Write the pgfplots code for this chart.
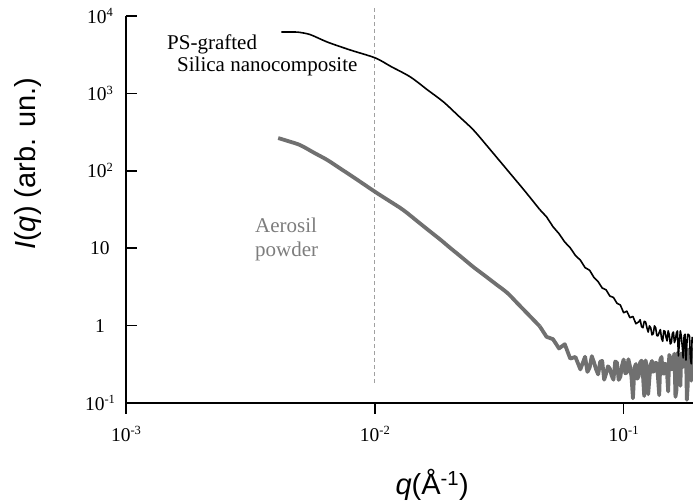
\documentclass[border=0pt]{standalone}
\usepackage{fontspec}
\setmainfont{Liberation Serif}
\newfontfamily\arial{Liberation Sans}
\usepackage{pgfplots}
\pgfplotsset{compat=1.18}
\definecolor{curvegray}{RGB}{112,112,112}
\definecolor{textgray}{RGB}{125,125,125}
\definecolor{dashgray}{RGB}{160,160,160}
\newcommand\ticksize{\fontsize{19.5bp}{21bp}\selectfont}
\newcommand\sups[1]{\raisebox{0.32em}{\fontsize{12.5bp}{13bp}\selectfont #1}}
\begin{document}
\begin{tikzpicture}
\path[use as bounding box] (0,0) rectangle (693bp,504bp);
\begin{axis}[
  at={(126bp,101bp)}, anchor=south west,
  scale only axis, width=567bp, height=387bp,
  xmode=log, ymode=log,
  xmin=0.001, xmax=0.19, ymin=0.1, ymax=10000,
  axis lines=left,
  axis line style={-, line width=1.5bp},
  xtick={0.001,0.01,0.1},
  xticklabels={10\sups{-3},10\sups{-2},10\sups{-1}},
  ytick={0.1,1,10,100,1000,10000},
  yticklabels={10\sups{-1},1,10,10\sups{2},10\sups{3},10\sups{4}},
  xminorticks=false, yminorticks=false,
  xtick align=outside, ytick align=inside,
  major tick length=11bp,
  every tick/.style={black, line width=1.5bp},
  tick label style={font=\ticksize},
  yticklabel style={anchor=center, xshift=-26bp},
  xticklabel style={yshift=-9bp},
  xlabel={\arial\fontsize{29bp}{30bp}\selectfont\textit{q}(Å\textsuperscript{-1})},
  ylabel={\arial\fontsize{29bp}{30bp}\selectfont\textit{I}(\textit{q}) (arb. un.)},
  xlabel style={at={(rel axis cs:0.54,-0.212)}, anchor=center},
  ylabel style={at={(rel axis cs:-0.173,0.618)}, anchor=center},
  clip=false,
]
\addplot[dashgray, line width=0.8bp, dash pattern=on 4bp off 3bp] coordinates {(0.01,0.18) (0.01,12600)};
% Aerosil powder: smooth low-q part
\addplot[curvegray, line width=3.8bp, smooth, tension=0.5] coordinates {
(0.00409,265) (0.0045,241) (0.00501,215) (0.0057,171) (0.00644,138) (0.0072,109)
(0.00796,88.3) (0.0089,69.3) (0.01005,53.2) (0.0113,41.8) (0.0130,31.2) (0.015,21.6)
(0.0165,16.9) (0.0184,12.8) (0.020,10.2) (0.0222,7.76) (0.0249,5.71) (0.0275,4.49)
(0.0305,3.48) (0.0341,2.64) (0.0375,1.93) (0.0415,1.38) (0.0435,1.18) (0.046,0.98)
};
% Aerosil powder: noisy high-q part
\addplot[curvegray, line width=3.8bp, line join=round] coordinates {
(0.046,0.98) (0.049,0.716) (0.052,0.668) (0.055,0.507) (0.058,0.575) (0.061,0.375)
(0.064,0.394) (0.067,0.272) (0.070,0.396) (0.0715,0.252) (0.073,0.286) (0.0745,0.403)
(0.076,0.335) (0.0775,0.272) (0.079,0.234) (0.0805,0.342) (0.082,0.350) (0.0835,0.200)
(0.085,0.240) (0.0865,0.298) (0.088,0.278) (0.0895,0.226) (0.091,0.200) (0.0925,0.344)
(0.094,0.333) (0.0955,0.199) (0.097,0.218) (0.0985,0.303) (0.100,0.365) (0.1015,0.242)
(0.103,0.247) (0.1045,0.367) (0.106,0.299) (0.1075,0.219) (0.109,0.115) (0.1105,0.284)
(0.112,0.319) (0.1135,0.206) (0.115,0.224) (0.1165,0.333) (0.118,0.353) (0.1195,0.234)
(0.121,0.123) (0.1225,0.355) (0.124,0.293) (0.1255,0.130) (0.127,0.214) (0.1285,0.315)
(0.130,0.350) (0.1315,0.253) (0.133,0.264) (0.1345,0.331) (0.136,0.324) (0.1375,0.207)
(0.139,0.126) (0.1405,0.365) (0.142,0.394) (0.1435,0.244) (0.145,0.239) (0.1465,0.322)
(0.148,0.315) (0.1495,0.237) (0.151,0.141) (0.1525,0.418) (0.154,0.387) (0.1555,0.272)
(0.157,0.278) (0.1585,0.371) (0.160,0.433) (0.1615,0.120) (0.163,0.145) (0.1645,0.442)
(0.166,0.385) (0.1675,0.328) (0.169,0.167) (0.1705,0.435) (0.172,0.431) (0.1735,0.293)
(0.175,0.330) (0.1765,0.413) (0.178,0.513) (0.1795,0.110) (0.181,0.171) (0.1825,0.489)
(0.184,0.452) (0.1855,0.350) (0.187,0.194) (0.1885,0.475) (0.190,0.515)
};
% PS-grafted silica nanocomposite: smooth low-q part
\addplot[black, line width=1.6bp, smooth, tension=0.5] coordinates {
(0.00421,6210) (0.0046,6210) (0.00492,6180) (0.0055,5750) (0.00644,4610) (0.00796,3640)
(0.01005,2870) (0.0116,2230) (0.0139,1630) (0.0163,1107) (0.0189,774) (0.0217,511)
(0.0249,337) (0.029,190) (0.0341,102) (0.040,55.2) (0.046,31.6)
};
% PS-grafted silica nanocomposite: noisy high-q part
\addplot[black, line width=1.6bp, line join=round] coordinates {
(0.046,31.6) (0.049,25.4) (0.052,18.97) (0.055,15.38) (0.058,12.0) (0.061,10.12)
(0.064,8.05) (0.067,7.01) (0.070,5.61) (0.073,5.19) (0.076,4.18) (0.079,3.69)
(0.082,3.06) (0.085,2.90) (0.088,2.41) (0.091,2.31) (0.094,1.945) (0.097,1.845)
(0.100,1.466) (0.103,1.535) (0.106,1.265) (0.109,1.312) (0.112,1.057) (0.115,1.117)
(0.1165,1.189) (0.118,0.975) (0.1195,0.938) (0.121,1.132) (0.1225,1.119) (0.124,0.940)
(0.1255,0.824) (0.127,0.991) (0.1285,0.933) (0.130,0.760) (0.1315,0.782) (0.133,0.991)
(0.1345,0.938) (0.136,0.740) (0.1375,0.740) (0.139,0.818) (0.1405,0.889) (0.142,0.685)
(0.1435,0.628) (0.145,0.859) (0.1465,0.843) (0.148,0.708) (0.1495,0.634) (0.151,0.857)
(0.1525,0.766) (0.154,0.579) (0.1555,0.601) (0.157,0.789) (0.1585,0.826) (0.160,0.604)
(0.1615,0.661) (0.163,0.802) (0.1645,0.853) (0.166,0.406) (0.1675,0.604) (0.169,0.855)
(0.1705,0.731) (0.172,0.543) (0.1735,0.382) (0.175,0.740) (0.1765,0.773) (0.178,0.358)
(0.1795,0.582) (0.181,0.771) (0.1825,0.767) (0.184,0.728) (0.1855,0.385) (0.187,0.321)
(0.1885,0.703) (0.190,0.661)
};
\end{axis}
\node[anchor=base west, inner sep=0pt, font=\fontsize{21bp}{22bp}\selectfont] at (167bp,454bp) {PS-grafted};
\node[anchor=base west, inner sep=0pt, font=\fontsize{21bp}{22bp}\selectfont] at (177bp,432bp) {Silica nanocomposite};
\node[anchor=base west, inner sep=0pt, text=textgray, font=\fontsize{21bp}{22bp}\selectfont] at (255bp,271bp) {Aerosil};
\node[anchor=base west, inner sep=0pt, text=textgray, font=\fontsize{21bp}{22bp}\selectfont] at (255bp,247bp) {powder};
\end{tikzpicture}
\end{document}
